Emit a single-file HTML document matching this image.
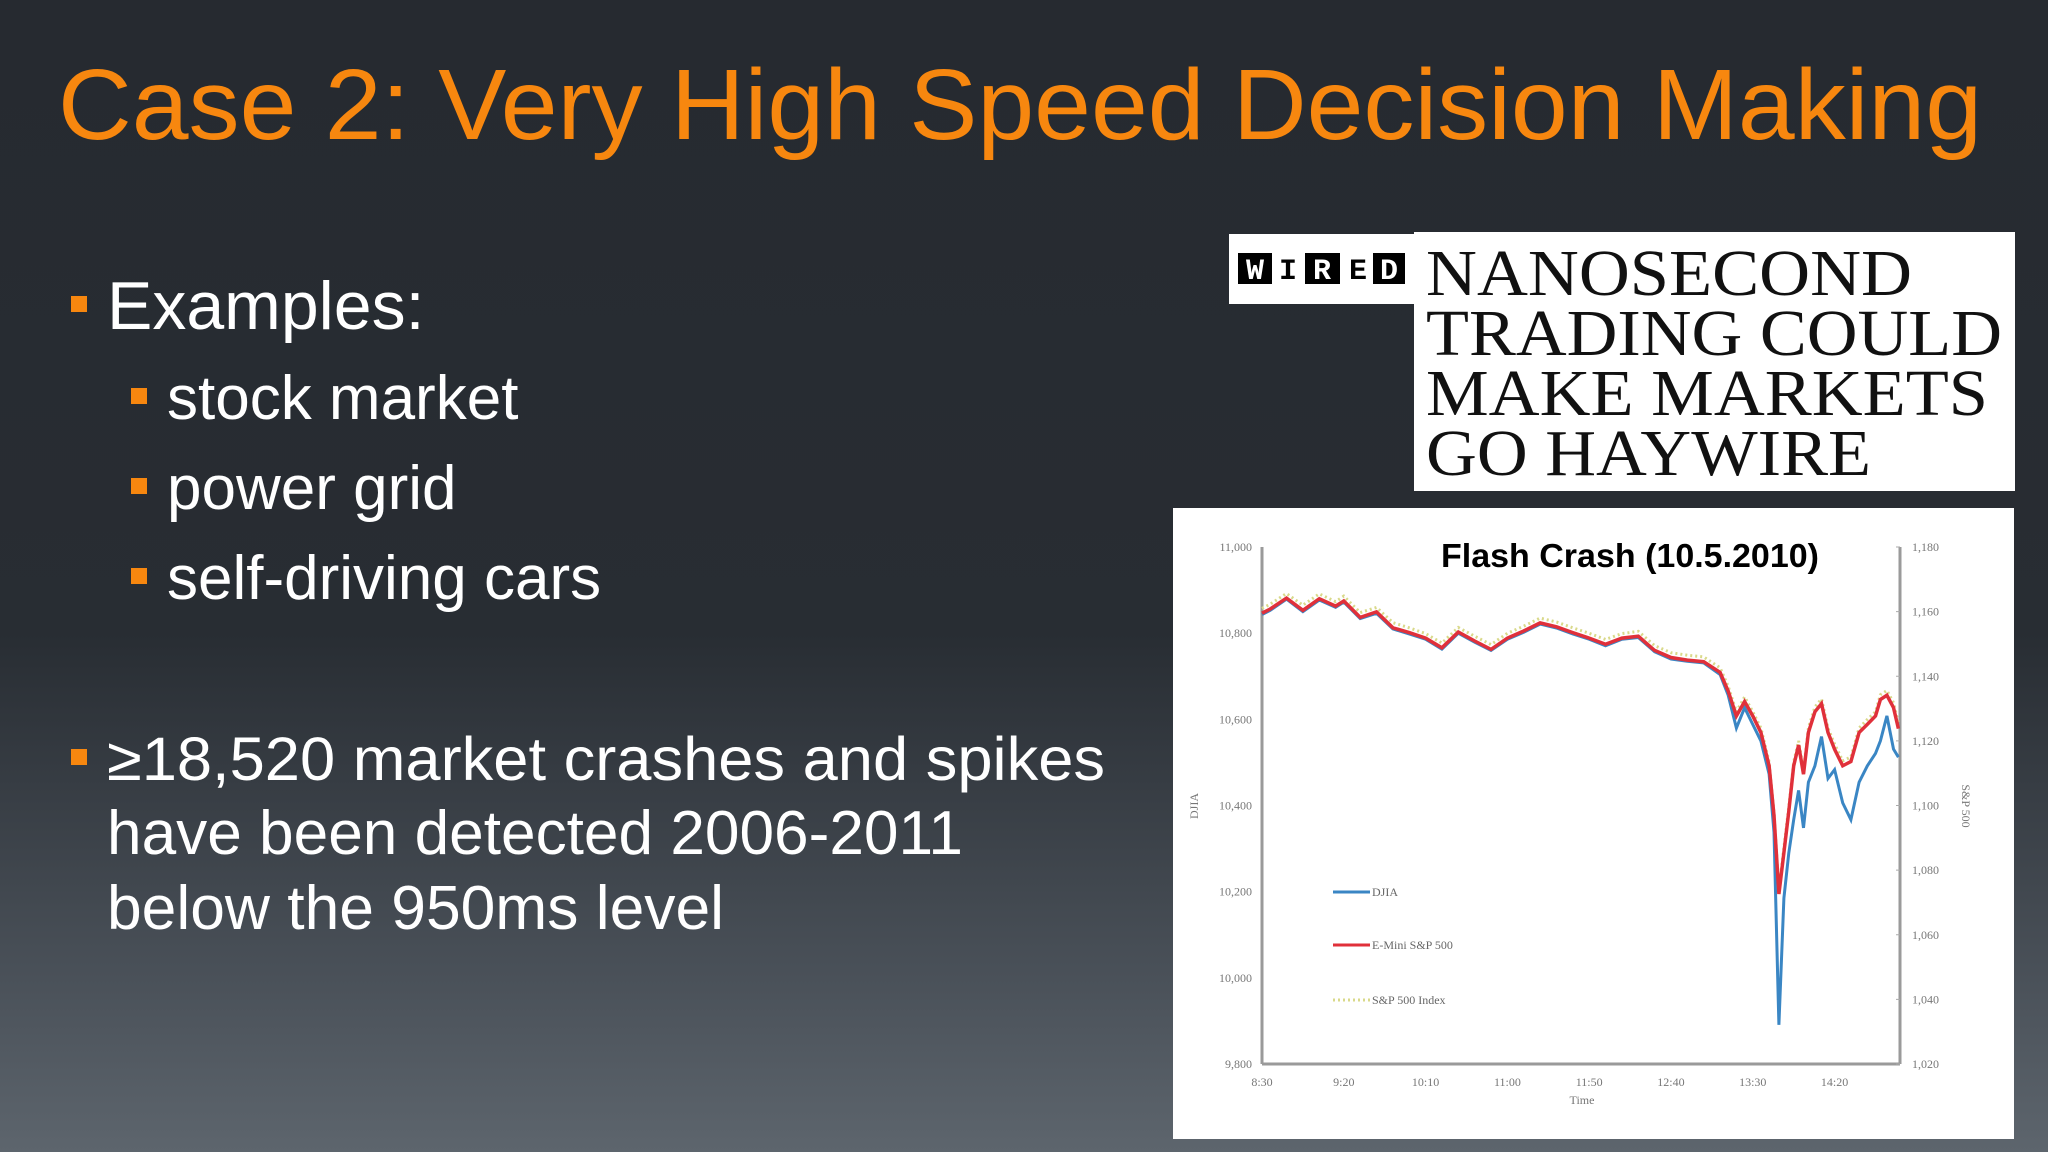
<!DOCTYPE html>
<html><head><meta charset="utf-8"><style>
html,body{margin:0;padding:0;width:2048px;height:1152px;overflow:hidden}
body{background:linear-gradient(180deg,#262a30 0%,#282d33 55%,#4a5159 85%,#5d656d 100%)}
svg{display:block}
</style></head><body>
<svg id="slide" width="2048" height="1152" viewBox="0 0 2048 1152" xmlns="http://www.w3.org/2000/svg">
<text x="58" y="139" font-family="Liberation Sans, sans-serif" font-size="100" fill="#f7870f" textLength="1924" lengthAdjust="spacingAndGlyphs">Case 2: Very High Speed Decision Making</text>
<g font-family="Liberation Sans, sans-serif" fill="#ffffff">
<rect x="71" y="296" width="16" height="16" fill="#f7870f"/>
<text x="107" y="329" font-size="68">Examples:</text>
<rect x="131" y="388" width="16" height="16" fill="#f7870f"/>
<text x="167" y="419" font-size="62">stock market</text>
<rect x="131" y="478" width="16" height="16" fill="#f7870f"/>
<text x="167" y="509" font-size="62">power grid</text>
<rect x="131" y="568" width="16" height="16" fill="#f7870f"/>
<text x="167" y="599" font-size="62">self-driving cars</text>
<rect x="71" y="749" width="16" height="16" fill="#f7870f"/>
<text x="107" y="780" font-size="61" textLength="998" lengthAdjust="spacingAndGlyphs">≥18,520 market crashes and spikes</text>
<text x="107" y="854" font-size="62" textLength="856" lengthAdjust="spacingAndGlyphs">have been detected 2006-2011</text>
<text x="107" y="929" font-size="62" textLength="617" lengthAdjust="spacingAndGlyphs">below the 950ms level</text>
</g>
<g>
<rect x="1229" y="234" width="186" height="70" fill="#ffffff"/>
<rect x="1414" y="232" width="601" height="259" fill="#ffffff"/>
<g font-family="Liberation Mono, monospace" font-weight="bold" font-size="30" text-anchor="middle">
<rect x="1238" y="253" width="34" height="31" fill="#000"/><text x="1255" y="279" fill="#fff">W</text>
<text x="1288" y="279" fill="#000">I</text>
<rect x="1305" y="253" width="35" height="31" fill="#000"/><text x="1322" y="279" fill="#fff">R</text>
<text x="1358" y="279" fill="#000">E</text>
<rect x="1373" y="253" width="32" height="31" fill="#000"/><text x="1389" y="279" fill="#fff">D</text>
</g>
<g font-family="Liberation Serif, serif" font-size="66" fill="#111">
<text x="1426" y="295" textLength="486" lengthAdjust="spacingAndGlyphs">NANOSECOND</text>
<text x="1426" y="355" textLength="576" lengthAdjust="spacingAndGlyphs">TRADING COULD</text>
<text x="1426" y="415" textLength="562" lengthAdjust="spacingAndGlyphs">MAKE MARKETS</text>
<text x="1426" y="475" textLength="445" lengthAdjust="spacingAndGlyphs">GO HAYWIRE</text>
</g>
</g>
<g id="chart">
<rect x="1173" y="508" width="841" height="631" fill="#ffffff"/>
<text x="1630" y="567" text-anchor="middle" font-family="Liberation Sans, sans-serif" font-weight="bold" font-size="33" fill="#000" textLength="378" lengthAdjust="spacingAndGlyphs">Flash Crash (10.5.2010)</text>
</g>
</svg>
<script>
const xTickLabels=["8:30","9:20","10:10","11:00","11:50","12:40","13:30","14:20"];
const xTickMinutes=[0,50,100,150,200,250,300,350];
const leftTicks=[11000,10800,10600,10400,10200,10000,9800];
const leftTickLabels=["11,000","10,800","10,600","10,400","10,200","10,000","9,800"];
const rightTicks=[1180,1160,1140,1120,1100,1080,1060,1040,1020];
const rightTickLabels=["1,180","1,160","1,140","1,120","1,100","1,080","1,060","1,040","1,020"];
const times=[0,5,15,25,35,45,50,60,70,80,90,100,110,120,130,140,150,160,170,180,190,200,210,220,230,240,250,260,270,280,285,290,295,300,305,310,313,316,319,322,325,328,331,334,338,342,346,350,355,360,365,370,375,378,382,386,389];
const djia=[10843,10853,10879,10850,10877,10860,10872,10834,10846,10810,10798,10786,10763,10800,10779,10760,10786,10802,10821,10812,10798,10786,10771,10786,10790,10757,10740,10735,10731,10704,10656,10580,10627,10588,10550,10473,10338,9891,10185,10290,10367,10435,10348,10454,10492,10560,10463,10483,10406,10367,10454,10492,10521,10550,10608,10531,10512];
const emini=[1159.5,1160.8,1164.2,1160.4,1164.0,1161.7,1163.3,1158.2,1159.9,1155.0,1153.5,1151.8,1148.8,1153.7,1150.9,1148.3,1151.8,1154.0,1156.5,1155.3,1153.5,1151.8,1149.9,1151.8,1152.4,1148.0,1145.8,1145.0,1144.5,1141.2,1135.4,1127.7,1132.2,1127.7,1122.6,1112.3,1096.9,1072.6,1085.4,1098.2,1112.3,1118.7,1109.7,1122.6,1129.0,1131.5,1122.6,1117.4,1112.3,1113.6,1122.6,1125.1,1127.7,1132.8,1134.1,1130.3,1123.8];
const spx=[1161.0,1162.3,1165.6,1162.0,1165.5,1163.1,1164.8,1159.7,1161.3,1156.6,1155.0,1153.2,1150.3,1155.1,1152.4,1149.8,1153.3,1155.5,1158.0,1156.8,1155.0,1153.3,1151.4,1153.2,1153.9,1149.5,1147.3,1146.5,1146.0,1142.6,1136.9,1129.0,1133.6,1129.0,1124.0,1113.5,1098.0,1074.0,1087.0,1099.6,1113.5,1120.0,1111.0,1124.0,1130.5,1133.0,1124.0,1119.0,1113.8,1115.0,1124.0,1126.6,1129.0,1134.3,1135.6,1131.8,1125.3];

const NS="http://www.w3.org/2000/svg";
const chart=document.getElementById('chart');
const L=1262,R=1900,T=547,B=1064,TMAX=390;
const xS=t=>L+(t/TMAX)*(R-L);
const yL=v=>T+(11000-v)/(11000-9800)*(B-T);
const yR=v=>T+(1180-v)/(1180-1020)*(B-T);
function mk(tag,attrs){const e=document.createElementNS(NS,tag);for(const k in attrs)e.setAttribute(k,attrs[k]);return e;}
const axisStyle={stroke:"#9a9a9a","stroke-width":3,fill:"none"};
let a=mk('line',Object.assign({x1:L,y1:T,x2:L,y2:B},axisStyle));

chart.appendChild(a);
a=mk('line',Object.assign({x1:R,y1:T,x2:R,y2:B},axisStyle));

chart.appendChild(a);
a=mk('line',Object.assign({x1:L,y1:B,x2:R,y2:B},axisStyle));

chart.appendChild(a);
const tf={"font-family":"Liberation Serif, serif","font-size":12,fill:"#777"};
leftTicks.forEach((v,i)=>{const t=mk('text',Object.assign({x:L-10,y:yL(v)+4,"text-anchor":"end"},tf));t.textContent=leftTickLabels[i];

chart.appendChild(t);});
rightTicks.forEach((v,i)=>{const t=mk('text',Object.assign({x:R+12,y:yR(v)+4,"text-anchor":"start"},tf));t.textContent=rightTickLabels[i];

chart.appendChild(t);
const k=mk('line',{x1:R-4,x2:R,y1:yR(v),y2:yR(v),stroke:"#aaa"});chart.appendChild(k);});
xTickMinutes.forEach((m,i)=>{const t=mk('text',Object.assign({x:xS(m),y:B+22,"text-anchor":"middle"},tf));t.textContent=xTickLabels[i];

chart.appendChild(t);});
let t=mk('text',Object.assign({x:1582,y:B+40,"text-anchor":"middle"},tf));t.textContent="Time";

chart.appendChild(t);
t=mk('text',Object.assign({x:1198,y:806,"text-anchor":"middle",transform:"rotate(-90 1198 806)"},tf));t.textContent="DJIA";

chart.appendChild(t);
t=mk('text',Object.assign({x:1962,y:806,"text-anchor":"middle",transform:"rotate(90 1962 806)"},tf));t.textContent="S&P 500";

chart.appendChild(t);
function pts(arr,ys){return arr.map((v,i)=>xS(times[i]).toFixed(1)+","+ys(v).toFixed(1)).join(" ");}
let p=mk('polyline',{points:pts(spx,yR),fill:"none",stroke:"#d9d98a","stroke-width":3,"stroke-dasharray":"2 3"});

chart.appendChild(p);
p=mk('polyline',{points:pts(djia,yL),fill:"none",stroke:"#3a86c4","stroke-width":3});

chart.appendChild(p);
p=mk('polyline',{points:pts(emini,yR),fill:"none",stroke:"#e0303a","stroke-width":3.5});

chart.appendChild(p);
const legend=[["DJIA","#3a86c4",null,892],["E-Mini S&P 500","#e0303a",null,945],["S&P 500 Index","#d9d98a","2 3",1000]];
legend.forEach(l=>{const g=mk('g',{});


const ln=mk('line',{x1:1333,x2:1370,y1:l[3],y2:l[3],stroke:l[1],"stroke-width":3});if(l[2])ln.setAttribute('stroke-dasharray',l[2]);g.appendChild(ln);
const tx=mk('text',Object.assign({x:1372,y:l[3]+4},tf));tx.setAttribute('fill','#666');tx.textContent=l[0];g.appendChild(tx);chart.appendChild(g);});
</script>
</body></html>
